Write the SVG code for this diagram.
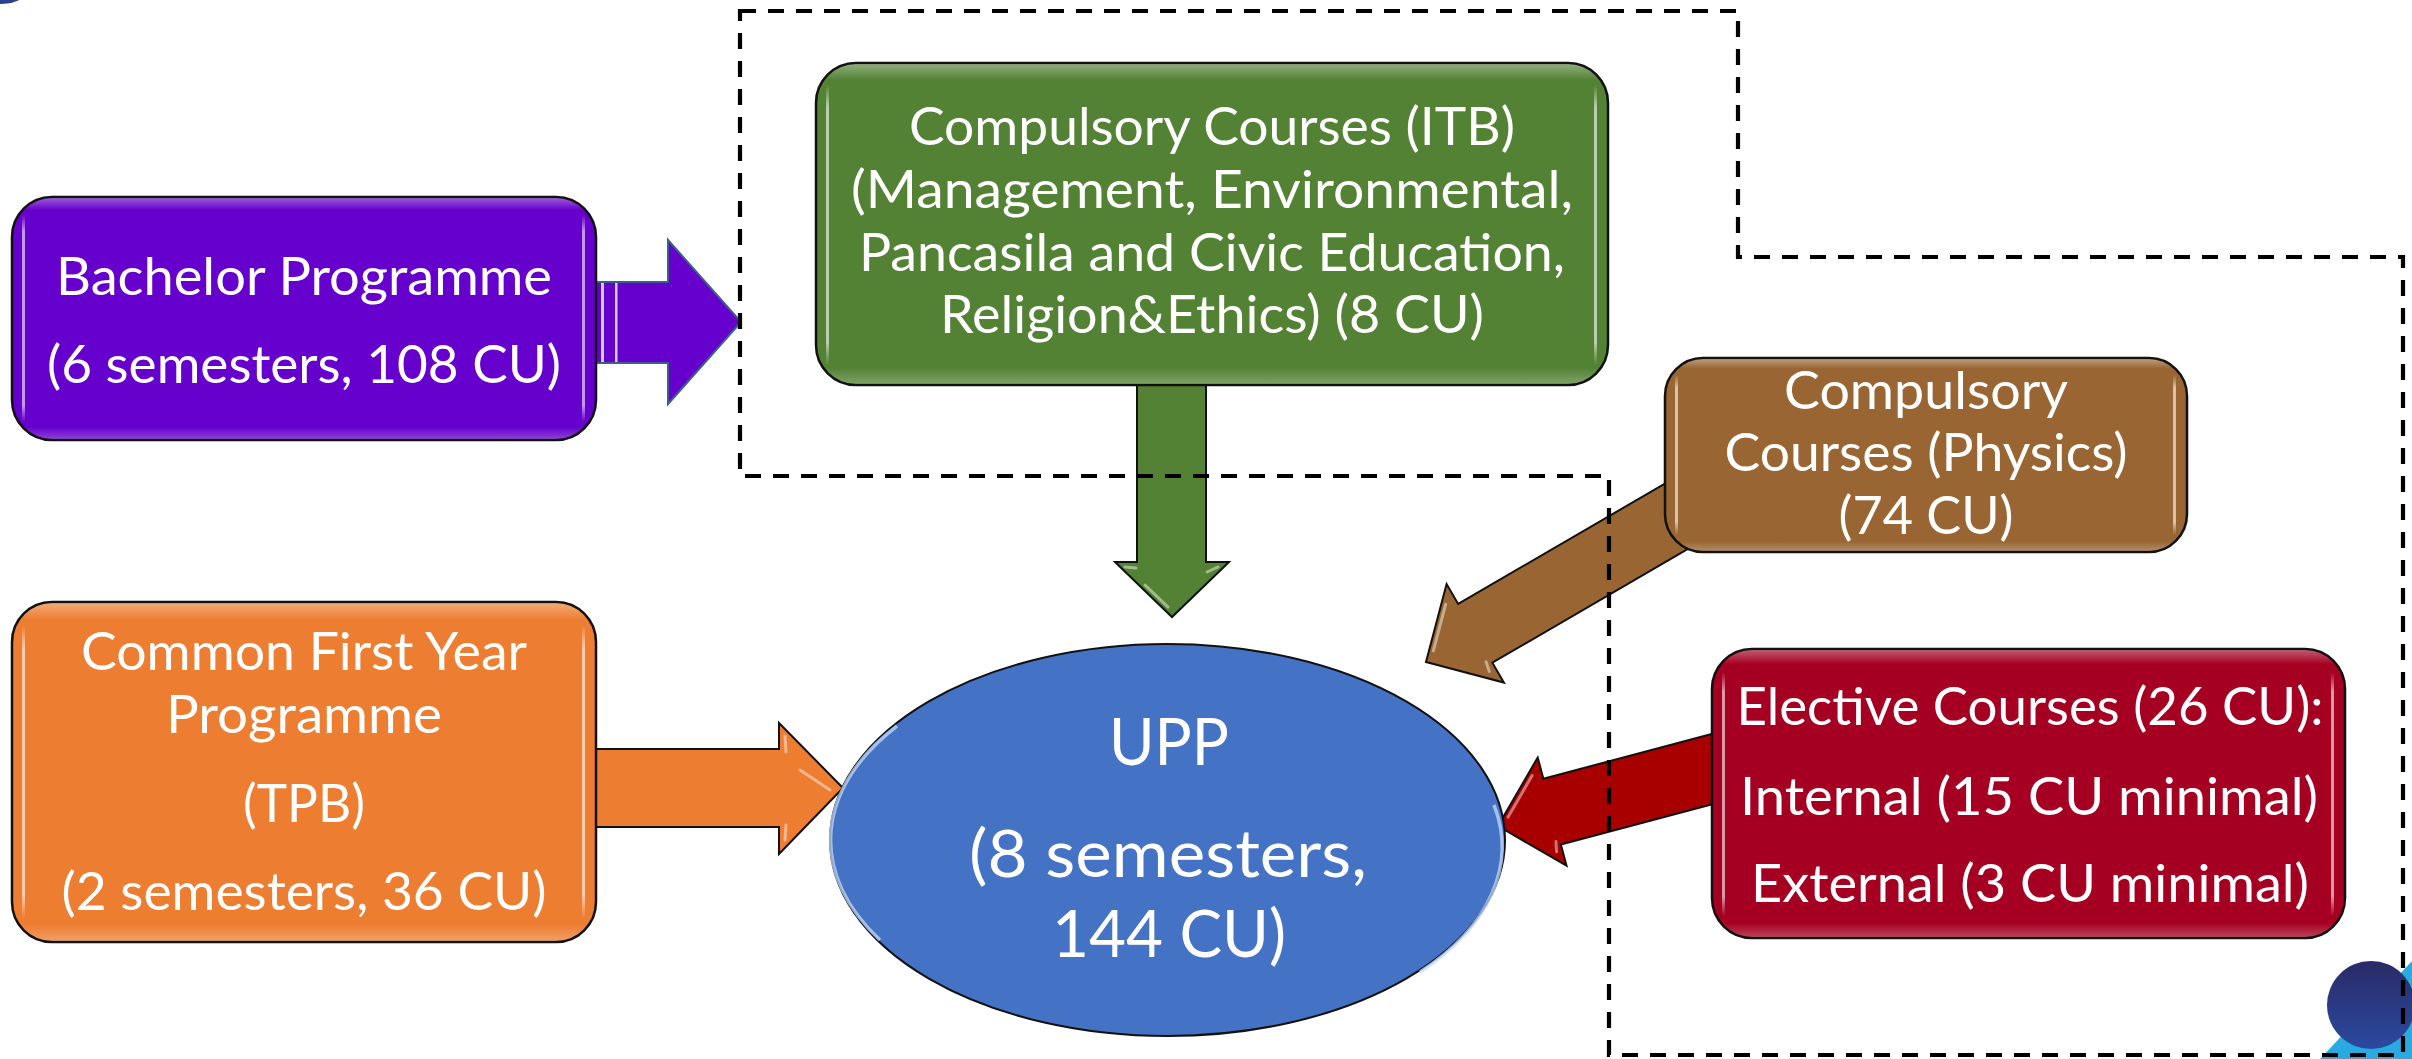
<svg xmlns="http://www.w3.org/2000/svg" width="2412" height="1059" viewBox="0 0 2412 1059">
<defs>
<style>
.t{font-family:Lato,'Liberation Sans',sans-serif;font-size:52px;fill:#ffffff;text-anchor:middle}
.tb{font-size:66px}
.box{stroke:#111;stroke-width:2.5}
.arr{stroke:#111;stroke-width:2;stroke-linejoin:miter}
.gloss{fill:url(#gloss);stroke:none}
.hl{fill:url(#hlv);stroke:none}
.bev{fill:none;stroke:#fff;stroke-opacity:0.45;stroke-width:3;stroke-linecap:round}
.dash{fill:none;stroke:#000;stroke-width:4.2;stroke-dasharray:16 12}
</style>
<linearGradient id="gloss" x1="0" y1="0" x2="0" y2="1">
<stop offset="0" stop-color="#fff" stop-opacity="0.35"/>
<stop offset="0.05" stop-color="#fff" stop-opacity="0"/>
<stop offset="0.95" stop-color="#fff" stop-opacity="0"/>
<stop offset="1" stop-color="#fff" stop-opacity="0.25"/>
</linearGradient>
<linearGradient id="hlv" x1="0" y1="0" x2="0" y2="1">
<stop offset="0" stop-color="#fff" stop-opacity="0"/>
<stop offset="0.08" stop-color="#fff" stop-opacity="0.6"/>
<stop offset="0.92" stop-color="#fff" stop-opacity="0.6"/>
<stop offset="1" stop-color="#fff" stop-opacity="0"/>
</linearGradient>
<linearGradient id="logoG" x1="0" y1="0" x2="0" y2="1">
<stop offset="0" stop-color="#2a2a66"/>
<stop offset="1" stop-color="#2a4aa0"/>
</linearGradient>
</defs>

<g id="logo">
<ellipse cx="0" cy="-6" rx="24" ry="10" fill="#2d3f8f"/>
<polygon points="2320,1059 2412,961 2412,1059" fill="#29abe2"/>
<circle cx="2371" cy="1005" r="44" fill="url(#logoG)"/>
</g>

<g id="connectors">
<g id="arrow-bachelor">
<path d="M596,282 H668 V240 L741,322 L668,404 V363 H596 Z" fill="#6600cc" stroke="#3b5f8c" stroke-width="2"/>
<rect x="601" y="283" width="3" height="79" fill="#c8d0e6"/>
<rect x="615" y="283" width="2.5" height="79" fill="#c8d0e6"/>
</g>
<g id="arrow-itb">
<path class="arr" d="M1137,380 H1206 V562 H1229 L1172,617 L1115,562 H1137 Z" fill="#548235"/>
<path class="bev" d="M1125,567 L1136,568 M1218,567 L1207,572 M1145,585 L1168,607"/>
</g>
<g id="arrow-tpb">
<path class="arr" d="M590,749 H779 V723 L843,788 L779,854 V827 H590 Z" fill="#ed7d31"/>
<path class="bev" d="M785,736 L786,752 M785,840 L786,825 M800,770 L830,790"/>
</g>
<g id="arrow-physics" transform="translate(1426,662) rotate(-30.2)">
<polygon class="arr" points="0,0 57,-57 57,-34 330,-34 330,34 57,34 57,57" fill="#996633"/>
<path class="bev" d="M12,-6 L46,-40 M50,40 L52,30"/>
</g>
<g id="arrow-elective" transform="translate(1498,826) rotate(-14.9)">
<polygon class="arr" points="0,0 56,-56 56,-34 270,-34 270,34 56,34 56,56" fill="#a80000"/>
<path class="bev" d="M12,-6 L46,-40 M50,40 L52,30"/>
</g>
</g>

<g id="boundary">
<path class="dash" d="M740,11 H1738 V257 H2403 V1055 H1609 V476 H740 Z"/>
</g>

<g id="node-bachelor">
<rect class="box" x="12" y="197" width="584" height="243" rx="40" fill="#6600cc"/>
<rect class="gloss" x="13" y="198" width="582" height="241" rx="39"/>
<rect class="hl" x="22" y="215" width="3" height="207"/>
<rect class="hl" x="582" y="215" width="3" height="207"/>
<text class="t" x="304" y="295" textLength="496" lengthAdjust="spacingAndGlyphs">Bachelor Programme</text>
<text class="t" x="304" y="383" textLength="514" lengthAdjust="spacingAndGlyphs">(6 semesters, 108 CU)</text>
</g>

<g id="node-itb">
<rect class="box" x="816" y="63" width="792" height="322" rx="40" fill="#548235"/>
<rect class="gloss" x="817" y="64" width="790" height="320" rx="39"/>
<rect class="hl" x="826" y="85" width="3" height="280"/>
<rect class="hl" x="1594" y="85" width="3" height="280"/>
<text class="t" x="1212" y="145" textLength="606" lengthAdjust="spacingAndGlyphs">Compulsory Courses (ITB)</text>
<text class="t" x="1212" y="208" textLength="722" lengthAdjust="spacingAndGlyphs">(Management, Environmental,</text>
<text class="t" x="1212" y="271" textLength="706" lengthAdjust="spacingAndGlyphs">Pancasila and Civic Education,</text>
<text class="t" x="1212" y="333" textLength="544" lengthAdjust="spacingAndGlyphs">Religion&amp;Ethics) (8 CU)</text>
</g>

<g id="node-physics">
<rect class="box" x="1665" y="358" width="522" height="194" rx="38" fill="#996633"/>
<rect class="gloss" x="1666" y="359" width="520" height="192" rx="37"/>
<rect class="hl" x="1675" y="375" width="3" height="160"/>
<rect class="hl" x="2173" y="375" width="3" height="160"/>
<text class="t" x="1926" y="409" textLength="284" lengthAdjust="spacingAndGlyphs">Compulsory</text>
<text class="t" x="1926" y="471" textLength="403" lengthAdjust="spacingAndGlyphs">Courses (Physics)</text>
<text class="t" x="1926" y="534" textLength="175" lengthAdjust="spacingAndGlyphs">(74 CU)</text>
</g>

<g id="node-tpb">
<rect class="box" x="12" y="602" width="584" height="340" rx="40" fill="#ed7d31"/>
<rect class="gloss" x="13" y="603" width="582" height="338" rx="39"/>
<rect class="hl" x="22" y="625" width="3" height="294"/>
<rect class="hl" x="582" y="625" width="3" height="294"/>
<text class="t" x="304" y="670" textLength="446" lengthAdjust="spacingAndGlyphs">Common First Year</text>
<text class="t" x="304" y="733" textLength="276" lengthAdjust="spacingAndGlyphs">Programme</text>
<text class="t" x="304" y="822" textLength="122" lengthAdjust="spacingAndGlyphs">(TPB)</text>
<text class="t" x="304" y="910" textLength="485" lengthAdjust="spacingAndGlyphs">(2 semesters, 36 CU)</text>
</g>

<g id="node-elective">
<rect class="box" x="1712" y="649" width="633" height="289" rx="40" fill="#a50021"/>
<rect class="gloss" x="1713" y="650" width="631" height="287" rx="39"/>
<rect class="hl" x="1722" y="672" width="3" height="244"/>
<rect class="hl" x="2331" y="672" width="3" height="244"/>
<text class="t" x="2030" y="725" textLength="587" lengthAdjust="spacingAndGlyphs">Elective Courses (26 CU):</text>
<text class="t" x="2029" y="815" textLength="578" lengthAdjust="spacingAndGlyphs">Internal (15 CU minimal)</text>
<text class="t" x="2030" y="902" textLength="558" lengthAdjust="spacingAndGlyphs">External (3 CU minimal)</text>
</g>

<g id="node-upp">
<ellipse cx="1167.5" cy="840" rx="337.5" ry="196" fill="#4472c4" stroke="#111" stroke-width="2"/>
<path d="M897,726 A331,190 0 0 0 880,940" fill="none" stroke="#c4dbff" stroke-width="3.5" stroke-opacity="0.75"/>
<path d="M1494,805 A331,190 0 0 1 1420,972" fill="none" stroke="#c4dbff" stroke-width="3.5" stroke-opacity="0.75"/>
<text class="t tb" x="1169" y="765" textLength="120" lengthAdjust="spacingAndGlyphs">UPP</text>
<text class="t tb" x="1168" y="877" textLength="398" lengthAdjust="spacingAndGlyphs">(8 semesters,</text>
<text class="t tb" x="1169" y="957" textLength="234" lengthAdjust="spacingAndGlyphs">144 CU)</text>
</g>
</svg>
